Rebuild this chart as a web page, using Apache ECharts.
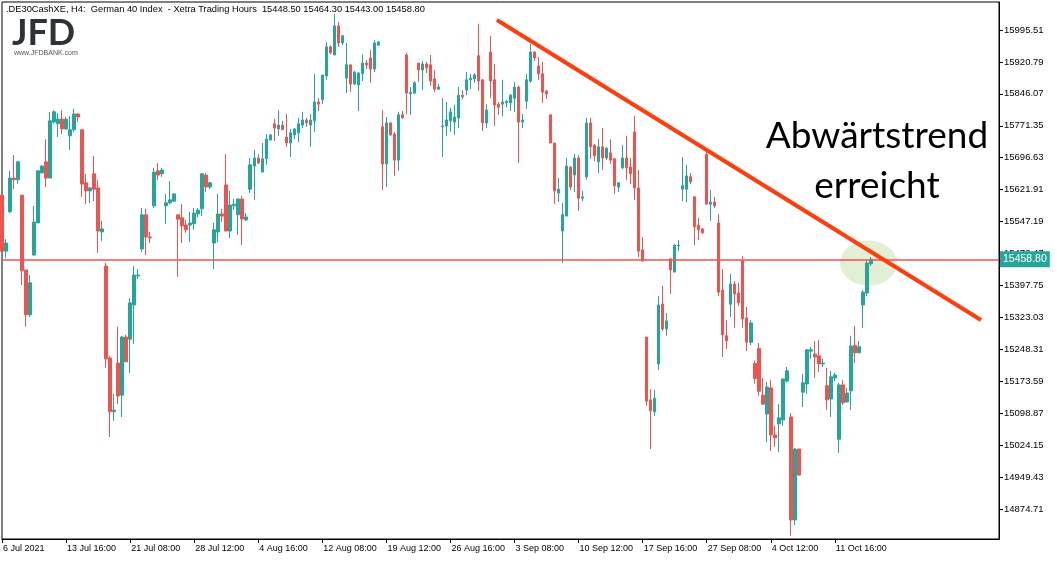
<!DOCTYPE html>
<html>
<head>
<meta charset="utf-8">
<script src="https://cdn.jsdelivr.net/npm/echarts@6/dist/echarts.min.js"></script>
<style>
html,body{margin:0;padding:0;background:#fff;}
#chart{width:1057px;height:562px;}
</style>
</head>
<body>
<div id="chart"></div>
<script>
// ---- data (H4 candles, .DE30CashXE) ----
const tickLabels = ['6 Jul 2021','13 Jul 16:00','21 Jul 08:00','28 Jul 12:00','4 Aug 16:00','12 Aug 08:00','19 Aug 12:00','26 Aug 16:00','3 Sep 08:00','10 Sep 12:00','17 Sep 16:00','27 Sep 08:00','4 Oct 12:00','11 Oct 16:00'];
// price scale ticks: first labelled tick 14874.71, step 74.72 (labels up to 15995.51)
const yTickStep = 74.72;
const yTickBase = 14799.99; // one step below the first labelled tick

const openV = [
15609,15478,15570,15649,15645,15609,15434,15329,15469,15544,
15661,15687,15649,15780,15776,15787,15764,15748,15762,15799,
15762,15638,15619,15659,15626,15523,15443,15228,15102,15216,
15141,15277,15272,15352,15420,15483,15563,15511,15584,15666,
15659,15584,15591,15595,15563,15556,15539,15539,15542,15565,
15577,15656,15628,15497,15523,15565,15633,15525,15584,15563,
15600,15551,15623,15677,15696,15663,15694,15738,15776,15764,
15773,15745,15731,15750,15755,15773,15785,15773,15783,15827,
15832,15888,15956,15937,16005,15965,15883,15914,15869,15867,
15893,15918,15930,15904,15960,15769,15682,15778,15752,15691,
15797,15937,15846,15848,15918,15902,15916,15914,15881,15857,
15769,15771,15783,15780,15790,15843,15855,15879,15881,15935,
15879,15778,15944,15879,15822,15822,15825,15825,15836,15862,
15780,15829,15876,15944,15911,15893,15853,15797,15731,15614,
15525,15560,15675,15656,15696,15602,15652,15778,15726,15687,
15722,15696,15708,15694,15628,15673,15696,15675,15757,15626,
15481,15277,15130,15102,15214,15354,15296,15460,15429,15490,
15623,15623,15652,15605,15539,15530,15705,15588,15593,15544,
15387,15280,15354,15401,15380,15455,15322,15265,15215,15250,
15141,15097,15158,15048,15074,15083,15174,15090,14849,15015,
15148,15167,15244,15237,15233,15214,15163,15132,15181,15038,
15165,15125,15151,15258,15240,15352,15380,15448.5];

const highV = [
15609,15506,15666,15703,15689,15609,15434,15422,15584,15668,
15680,15740,15804,15808,15801,15808,15792,15794,15811,15801,
15762,15659,15628,15701,15645,15549,15450,15233,15144,15301,
15280,15282,15368,15443,15436,15579,15577,15523,15673,15684,
15673,15612,15642,15612,15563,15588,15551,15570,15579,15579,
15659,15661,15640,15544,15612,15577,15705,15619,15600,15600,
15607,15567,15696,15715,15705,15731,15752,15752,15787,15808,
15783,15799,15764,15766,15790,15804,15790,15799,15893,15836,
15890,15967,15960,16033,16014,15982,15965,15914,15900,15897,
15939,15925,15949,15972,15970,15808,15792,15780,15757,15804,
15806,15942,15862,15876,15918,15923,15921,15937,15902,15869,
15836,15827,15813,15820,15862,15855,15897,15893,15895,16010,
15879,15822,15982,15916,15827,15879,15832,15846,15874,15865,
15799,15893,15963,15946,15932,15921,15855,15797,15731,15649,
15591,15696,15677,15705,15703,15619,15790,15790,15729,15740,
15766,15722,15740,15696,15638,15726,15748,15696,15794,15668,
15511,15277,15155,15153,15373,15397,15333,15460,15495,15504,
15698,15680,15661,15607,15556,15532,15712,15621,15605,15565,
15436,15317,15425,15408,15404,15467,15347,15317,15222,15263,
15181,15172,15177,15069,15120,15179,15207,15099,15017,15015,
15191,15249,15254,15268,15270,15226,15205,15198,15193,15170,
15177,15158,15280,15303,15268,15387,15457,15464.3];

const lowV = [
15478,15462,15567,15623,15635,15399,15301,15324,15467,15544,
15661,15628,15649,15776,15745,15752,15762,15715,15757,15780,
15605,15588,15591,15595,15474,15502,15205,15043,15081,15120,
15090,15219,15193,15261,15413,15476,15469,15497,15579,15645,
15652,15542,15588,15593,15418,15497,15521,15499,15528,15558,
15560,15616,15623,15436,15499,15546,15525,15509,15574,15516,
15492,15549,15614,15598,15682,15663,15680,15738,15736,15748,
15762,15722,15698,15740,15733,15766,15769,15722,15757,15806,
15822,15879,15939,15937,15956,15960,15848,15850,15867,15806,
15876,15904,15872,15897,15960,15621,15628,15748,15654,15666,
15787,15799,15797,15846,15874,15855,15895,15865,15850,15855,
15698,15748,15757,15750,15766,15834,15843,15857,15872,15853,
15759,15766,15836,15771,15797,15794,15815,15806,15804,15684,
15766,15811,15872,15923,15879,15825,15834,15731,15588,15593,
15450,15560,15621,15616,15572,15595,15645,15694,15689,15661,
15668,15691,15682,15612,15616,15670,15645,15635,15598,15464,
15453,15116,15015,15092,15200,15291,15280,15378,15429,15478,
15595,15593,15635,15492,15504,15518,15588,15549,15579,15373,
15230,15249,15324,15298,15350,15298,15244,15258,15168,15140,
15118,15031,15010,15020,15008,15069,15170,14812,14837,14952,
15113,15144,15226,15181,15195,15207,15106,15090,15174,15006,
15118,15125,15106,15216,15240,15298,15373,15443.0];

const closeV = [
15478,15497,15649,15645,15687,15432,15329,15404,15546,15666,
15677,15649,15783,15804,15787,15764,15787,15762,15799,15792,
15635,15619,15626,15623,15525,15530,15226,15102,15106,15139,
15277,15219,15357,15422,15422,15563,15511,15509,15663,15656,
15668,15591,15598,15612,15553,15537,15528,15544,15567,15574,
15659,15628,15638,15528,15565,15560,15525,15586,15588,15600,
15553,15558,15680,15696,15684,15694,15740,15750,15766,15773,
15762,15731,15755,15764,15776,15785,15778,15785,15827,15822,
15890,15956,15942,16005,15965,15982,15914,15869,15897,15895,
15918,15914,15904,15965,15967,15682,15778,15750,15691,15797,
15790,15848,15850,15872,15902,15916,15907,15876,15857,15862,
15771,15785,15804,15792,15843,15839,15879,15883,15890,15876,
15778,15808,15876,15820,15815,15827,15829,15843,15862,15780,
15785,15879,15944,15930,15893,15850,15846,15731,15619,15623,
15563,15677,15628,15696,15602,15605,15778,15722,15701,15722,
15696,15719,15691,15631,15638,15696,15673,15659,15626,15478,
15455,15127,15104,15134,15352,15296,15315,15434,15492,15492,
15631,15654,15640,15535,15528,15521,15588,15593,15584,15382,
15282,15268,15401,15378,15357,15319,15265,15310,15180,15150,
15120,15160,15048,15041,15088,15179,15198,14849,15015,14954,
15170,15247,15247,15230,15214,15216,15130,15184,15188,15165,
15123,15146,15256,15240,15254,15382,15450,15458.8];

const lastPrice = 15458.80;
const headerText = '.DE30CashXE, H4:  German 40 Index  - Xetra Trading Hours  15448.50 15464.30 15443.00 15458.80';
// downtrend line anchors: [candle index, price]
const trendStart = [123.6, 16019];
const trendEnd = [244.5, 15317];
// highlight ellipse centre: [candle index, price]
const highlightAt = [216.4, 15450];

// ---- build ----
const SLOTS = 250;
const PRICE_MAX = 16061.0, PRICE_MIN = 14804.4;
const categories = [];
for (let i = 0; i < SLOTS; i++) categories.push(String(i));
const candles = openV.map((o, i) => [o, closeV[i], lowV[i], highV[i]]);

const UP = '#26a69a', DOWN = '#ef5350';
const chart = echarts.init(document.getElementById('chart'), null, {renderer: 'canvas'});
chart.setOption({
  animation: false,
  backgroundColor: '#ffffff',
  grid: [
    {left: 2, right: 58, top: 2, bottom: 23, show: true, borderColor: '#000', borderWidth: 1, backgroundColor: 'transparent'},
    // price-scale grid: same scale, extended down to the first (unlabelled) step
    {left: 2, right: 58, top: 2, bottom: 21.1, show: false}
  ],
  xAxis: [{
    type: 'category', data: categories, boundaryGap: false, gridIndex: 0,
    axisLine: {show: true, onZero: false, lineStyle: {color: '#000', width: 1}},
    axisTick: {show: true, length: 4, interval: (i) => i % 16 === 0 && i <= 208, lineStyle: {color: '#000'}},
    axisLabel: {
      show: true, interval: (i) => i % 16 === 0 && i <= 208, align: 'left', margin: 5,
      fontFamily: 'Liberation Sans', fontSize: 9, color: '#000', padding: [0, 0, 0, 1],
      formatter: (v, i) => tickLabels[Math.round(i / 16)] || ''
    },
    splitLine: {show: false}
  }, {
    type: 'value', min: 0, max: SLOTS - 1, show: false, gridIndex: 0,
    axisLine: {show: false, onZero: false}, axisTick: {show: false}, axisLabel: {show: false}, splitLine: {show: false}
  }, {
    type: 'value', min: 0, max: 1, show: false, gridIndex: 1,
    axisLine: {show: false, onZero: false}, axisTick: {show: false}, axisLabel: {show: false}, splitLine: {show: false}
  }],
  yAxis: [{
    type: 'value', position: 'right', min: PRICE_MIN, max: PRICE_MAX, gridIndex: 0,
    axisLine: {show: true, onZero: false, lineStyle: {color: '#000', width: 1}},
    axisTick: {show: false}, axisLabel: {show: false},
    splitLine: {show: false}
  }, {
    type: 'value', position: 'right', gridIndex: 1,
    min: yTickBase, max: PRICE_MAX, interval: yTickStep,
    axisLine: {show: false, onZero: false},
    axisTick: {show: true, length: 4, lineStyle: {color: '#000'}},
    axisLabel: {show: true, showMinLabel: false, showMaxLabel: false, margin: 5,
      fontFamily: 'Liberation Sans', fontSize: 9.5, color: '#000',
      formatter: (v) => v.toFixed(2)},
    splitLine: {show: false}
  }],
  series: [{
    type: 'scatter', xAxisIndex: 1, yAxisIndex: 0, z: 1,
    data: [highlightAt], symbol: 'circle', symbolSize: [57, 45],
    itemStyle: {color: 'rgba(196,223,170,0.62)'}, silent: true
  }, {
    type: 'candlestick', xAxisIndex: 0, yAxisIndex: 0, z: 2,
    data: candles, barWidth: 3,
    itemStyle: {color: UP, color0: DOWN, borderColor: UP, borderColor0: DOWN, borderWidth: 1},
    markLine: {
      silent: true, symbol: 'none', animation: false,
      lineStyle: {color: '#ef5350', width: 1.6, type: 'solid'},
      label: {show: true, position: 'end', distance: 1, formatter: lastPrice.toFixed(2),
        backgroundColor: UP, color: '#fff', fontFamily: 'Liberation Sans', fontSize: 10.5, padding: [3, 3, 2, 3]},
      data: [{yAxis: lastPrice}]
    }
  }, {
    type: 'line', xAxisIndex: 1, yAxisIndex: 0, z: 5,
    data: [trendStart, trendEnd], symbol: 'none', silent: true,
    lineStyle: {color: '#ff3d0d', width: 4}
  }],
  graphic: [
    {type: 'text', left: 6, top: 5, style: {text: headerText, font: '9.3px "Liberation Sans"', fill: '#000'}},
    {type: 'text', left: 12, top: 15, style: {text: 'JFD', font: 'bold 36px Lato', fill: '#2d3338'}},
    {type: 'text', left: 14, top: 50, style: {text: 'www.JFDBANK.com', font: '7px "Liberation Sans"', fill: '#555'}},
    {type: 'text', x: 877, y: 136, style: {text: 'Abwärtstrend', font: '37px Lato', fill: '#000', textAlign: 'center', textVerticalAlign: 'middle'}},
    {type: 'text', x: 877, y: 186, style: {text: 'erreicht', font: '37px Lato', fill: '#000', textAlign: 'center', textVerticalAlign: 'middle'}}
  ]
});
</script>
</body>
</html>
